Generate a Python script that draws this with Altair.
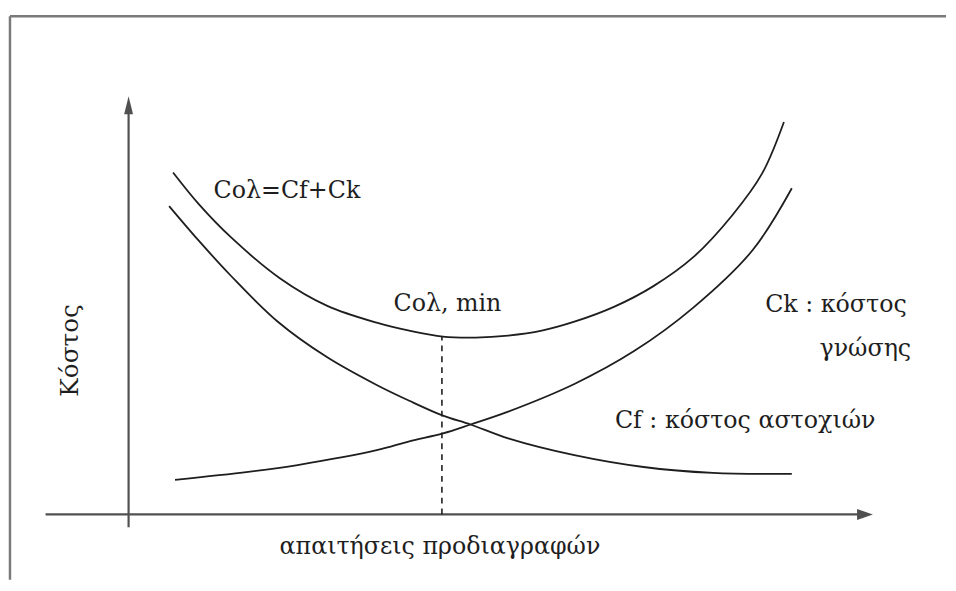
import altair as alt
import pandas as pd

# Curves (x = specification requirements, y = cost)
total_x = [4.5, 7.1, 10.4, 15.3, 20.1, 25.1, 28.4, 31.8, 35.1, 38.4, 41.8, 45.1, 49.1, 53.1, 57.1, 61.1, 64.1, 66.3]
total_y = [34.6, 31.4, 28.0, 23.9, 21.1, 19.4, 18.6, 18.0, 17.9, 18.1, 18.6, 19.5, 21.0, 23.1, 26.0, 30.3, 34.5, 39.7]

cf_x = [4.1, 7.1, 10.3, 15.1, 20.1, 25.1, 28.4, 31.8, 34.6, 38.4, 45.1, 52.1, 59.1, 67.1]
cf_y = [31.2, 27.7, 24.2, 19.5, 15.9, 13.1, 11.5, 10.0, 9.1, 7.7, 6.0, 4.8, 4.2, 4.1]

ck_x = [4.7, 12.1, 17.1, 25.1, 28.4, 31.8, 34.6, 38.4, 45.1, 51.1, 57.1, 63.1, 67.1]
ck_y = [3.5, 4.3, 5.0, 6.5, 7.4, 8.2, 9.1, 10.4, 13.2, 16.5, 20.9, 26.7, 33.0]

# Minimum of the total cost
min_x = 31.7
min_y = 17.95

# Labels
label_text = ["Coλ=Cf+Ck", "Coλ, min", "Ck : κόστος", "γνώσης", "Cf : κόστος αστοχιών"]
label_x = [8.6, 26.8, 64.4, 69.9, 49.2]
label_y = [32.0, 20.6, 20.5, 16.0, 8.7]

x_title = "απαιτήσεις προδιαγραφών"
y_title = "Κόστος"

X_DOM = [-12.1, 82.7]
Y_DOM = [-6.6, 50.9]
FONT = "DejaVu Serif"
INK = "#1e1e1e"
AXIS = "#505050"


def X(field="x"):
    return alt.X(f"{field}:Q", scale=alt.Scale(domain=X_DOM, nice=False, zero=False), axis=None)


def Y(field="y"):
    return alt.Y(f"{field}:Q", scale=alt.Scale(domain=Y_DOM, nice=False, zero=False), axis=None)


rows = []
for name, xx, yy in [("total", total_x, total_y), ("cf", cf_x, cf_y), ("ck", ck_x, ck_y)]:
    for a, b in zip(xx, yy):
        rows.append({"series": name, "x": a, "y": b})
curves_df = pd.DataFrame(rows)

curves = alt.Chart(curves_df).mark_line(
    interpolate="catmull-rom", color=INK, strokeWidth=1.8
).encode(x=X(), y=Y(), detail="series:N")

dash_df = pd.DataFrame({"x": [min_x], "y": [0.0], "y2": [min_y]})
dashed = alt.Chart(dash_df).mark_rule(
    color=INK, strokeWidth=1.6, strokeDash=[6, 5]
).encode(x=X(), y=Y(), y2="y2:Q")

# Axes
yaxis_df = pd.DataFrame({"x": [0.0], "y": [-1.3], "y2": [40.8]})
yaxis = alt.Chart(yaxis_df).mark_rule(color=AXIS, strokeWidth=2.2).encode(
    x=X(), y=Y(), y2="y2:Q"
)
xaxis_df = pd.DataFrame({"x": [-8.4], "x2": [73.9], "y": [0.0]})
xaxis = alt.Chart(xaxis_df).mark_rule(color=AXIS, strokeWidth=2.2).encode(
    x=X(), x2="x2:Q", y=Y()
)

# Arrow heads as small filled triangles
up_df = pd.DataFrame({"x": [-0.45, 0.0, 0.45], "y": [40.5, 42.3, 40.5], "y2": [40.5, 40.5, 40.5]})
up_arrow = alt.Chart(up_df).mark_area(color=AXIS, opacity=1, interpolate="linear").encode(
    x=X(), y=Y(), y2="y2:Q"
)
right_df = pd.DataFrame({"y": [-0.55, 0.0, 0.55], "x": [73.7, 75.3, 73.7], "x2": [73.7, 73.7, 73.7]})
right_arrow = alt.Chart(right_df).mark_area(
    color=AXIS, opacity=1, orient="horizontal", interpolate="linear"
).encode(x=X(), x2="x2:Q", y=Y())

labels_df = pd.DataFrame({"t": label_text, "x": label_x, "y": label_y})
labels = alt.Chart(labels_df).mark_text(
    font=FONT, fontSize=24, color=INK, align="left", baseline="alphabetic"
).encode(x=X(), y=Y(), text="t:N")

xt_df = pd.DataFrame({"t": [x_title], "x": [31.5], "y": [-4.0]})
xtitle = alt.Chart(xt_df).mark_text(
    font=FONT, fontSize=24, color=INK, align="center", baseline="alphabetic"
).encode(x=X(), y=Y(), text="t:N")

yt_df = pd.DataFrame({"t": [y_title], "x": [-5.9], "y": [16.6]})
ytitle = alt.Chart(yt_df).mark_text(
    font=FONT, fontSize=25, color=INK, align="center", baseline="middle", angle=270
).encode(x=X(), y=Y(), text="t:N")

# Scanned page frame (left and top edges)
fl_df = pd.DataFrame({"x": [-12.0], "y": [-6.6], "y2": [50.4]})
frame_left = alt.Chart(fl_df).mark_rule(color="#7a7a7a", strokeWidth=2.5).encode(
    x=X(), y=Y(), y2="y2:Q"
)
ft_df = pd.DataFrame({"x": [-12.0], "x2": [82.7], "y": [50.4]})
frame_top = alt.Chart(ft_df).mark_rule(color="#7a7a7a", strokeWidth=2.5).encode(
    x=X(), x2="x2:Q", y=Y()
)

chart = alt.layer(
    frame_left, frame_top, xaxis, yaxis, up_arrow, right_arrow, dashed, curves,
    labels, xtitle, ytitle
).properties(
    width=948, height=575, padding=0, background="white"
).configure_view(strokeWidth=0)

chart.save("out.html", embed_options={"renderer": "svg", "actions": False})
